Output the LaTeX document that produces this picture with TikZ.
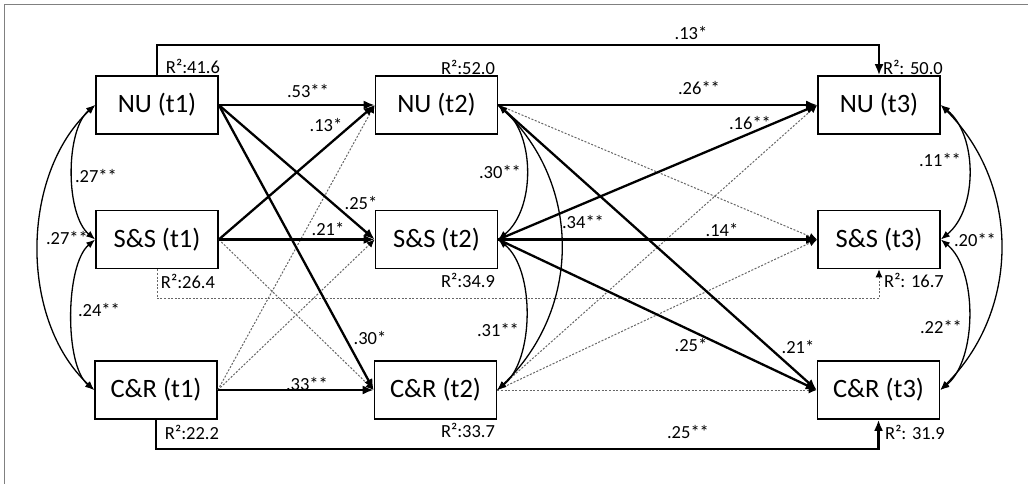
\documentclass[tikz,border=0pt]{standalone}
\usepackage{fontspec}
\setmainfont{Carlito}
\usetikzlibrary{arrows.meta,calc}
\begin{document}
\begin{tikzpicture}[x=1pt,y=-1pt,
  box/.style={draw,line width=1.6pt,minimum width=122pt,minimum height=58pt,inner sep=0pt,font=\fontsize{26.5}{30}\selectfont},
  lab/.style={inner sep=0pt,font=\fontsize{18.5}{22}\selectfont},
  sig/.style={line width=2.3pt,-{Latex[length=11pt,width=9pt]}},
  nsig/.style={draw=black!60,line width=1pt,dash pattern=on 2pt off 1.6pt,-{Latex[length=8pt,width=7pt,color=black]}},
  cov/.style={line width=1.3pt,{Latex[length=9pt,width=7pt]}-{Latex[length=9pt,width=7pt]}},
  frame/.style={draw=black!50,line width=1.5pt}]
\useasboundingbox (0,0) rectangle (1028,484);
\draw[frame] (4.5,484) -- (4.5,4.5) -- (1028,4.5);
% boxes
\node[box] (n1) at (157,105) {NU (t1)};
\node[box] (s1) at (157,239.5) {S\&S (t1)};
\node[box] (c1) at (156,390) {C\&R (t1)};
\node[box] (n2) at (436.5,105) {NU (t2)};
\node[box] (s2) at (436.5,239.5) {S\&S (t2)};
\node[box] (c2) at (435.5,390) {C\&R (t2)};
\node[box] (n3) at (879,105) {NU (t3)};
\node[box] (s3) at (879,239.5) {S\&S (t3)};
\node[box] (c3) at (878.5,390) {C\&R (t3)};
% non-significant paths
\draw[nsig] (c1.east) -- (n2.west);
\draw[nsig] (c1.east) -- (s2.west);
\draw[nsig] (s1.east) -- (c2.west);
\draw[nsig] (n2.east) -- (s3.west);
\draw[nsig] (c2.east) -- (n3.west);
\draw[nsig] (c2.east) -- (s3.west);
\draw[nsig] (c2.east) -- (c3.west);
\draw[nsig] (s1.south) |- ($(s3.south)+(0,29)$) -- (s3.south);
% significant paths
\draw[sig] (n1.east) -- (n2.west);
\draw[sig] (s1.east) -- (n2.west);
\draw[sig] (n1.east) -- (s2.west);
\draw[sig] (s1.east) -- (s2.west);
\draw[sig] (n1.east) -- (c2.west);
\draw[sig] (c1.east) -- (c2.west);
\draw[sig] (n2.east) -- (n3.west);
\draw[sig] (s2.east) -- (n3.west);
\draw[sig] (s2.east) -- (s3.west);
\draw[sig] (n2.east) -- (c3.west);
\draw[sig] (s2.east) -- (c3.west);
\draw[sig] (n1.north) |- ($(n3.north)+(0,-30)$) -- (n3.north);
\draw[sig] (c1.south) |- ($(c3.south)+(0,29)$) -- (c3.south);
% covariances
\draw[cov] (n1.west) .. controls +(-30,25) and +(-30,-25) .. (s1.west);
\draw[cov] (s1.west) .. controls +(-30,25) and +(-30,-25) .. (c1.west);
\draw[cov] (n1.west) .. controls +(-75,70) and +(-75,-70) .. (c1.west);
\draw[cov] (n2.east) .. controls +(37,30) and +(37,-30) .. (s2.east);
\draw[cov] (s2.east) .. controls +(37,30) and +(37,-30) .. (c2.east);
\draw[cov] (n2.east) .. controls +(84,80) and +(84,-80) .. (c2.east);
\draw[cov] (n3.east) .. controls +(37,30) and +(37,-30) .. (s3.east);
\draw[cov] (s3.east) .. controls +(37,30) and +(37,-30) .. (c3.east);
\draw[cov] (n3.east) .. controls +(80,80) and +(80,-80) .. (c3.east);
% coefficient labels
\node[lab] (l1) at (691,33) {.13*};
\node[lab] (l2) at (308,91) {.53**};
\node[lab] (l3) at (326,125) {.13*};
\node[lab] (l4) at (361,203) {.25*};
\node[lab] (l5) at (328,229) {.21*};
\node[lab] (l6) at (370,338) {.30*};
\node[lab] (l7) at (307,384) {.33**};
\node[lab] (l8) at (699,88) {.26**};
\node[lab] (l9) at (750,123) {.16**};
\node[lab] (l10) at (722,230) {.14*};
\node[lab] (l11) at (691,345) {.25*};
\node[lab] (l12) at (798,347) {.21*};
\node[lab] (l13) at (688,432) {.25**};
\node[lab] (l14) at (96,176) {.27**};
\node[lab] (l15) at (67,238) {.27**};
\node[lab] (l16) at (99,310) {.24**};
\node[lab] (l17) at (500,172) {.30**};
\node[lab] (l18) at (583,222) {.34**};
\node[lab] (l19) at (498,330) {.31**};
\node[lab] (l20) at (940,160) {.11**};
\node[lab] (l21) at (975,240) {.20**};
\node[lab] (l22) at (941,327) {.22**};
% R2 labels
\node[lab] (r1) at (193,66) {R²:41.6};
\node[lab] (r2) at (468,67) {R²:52.0};
\node[lab] (r3) at (913,67) {R²: 50.0};
\node[lab] (r4) at (188,281) {R²:26.4};
\node[lab] (r5) at (468,280) {R²:34.9};
\node[lab] (r6) at (914,280) {R²: 16.7};
\node[lab] (r7) at (192,432) {R²:22.2};
\node[lab] (r8) at (468,430) {R²:33.7};
\node[lab] (r9) at (915,432) {R²: 31.9};
\end{tikzpicture}
\end{document}
